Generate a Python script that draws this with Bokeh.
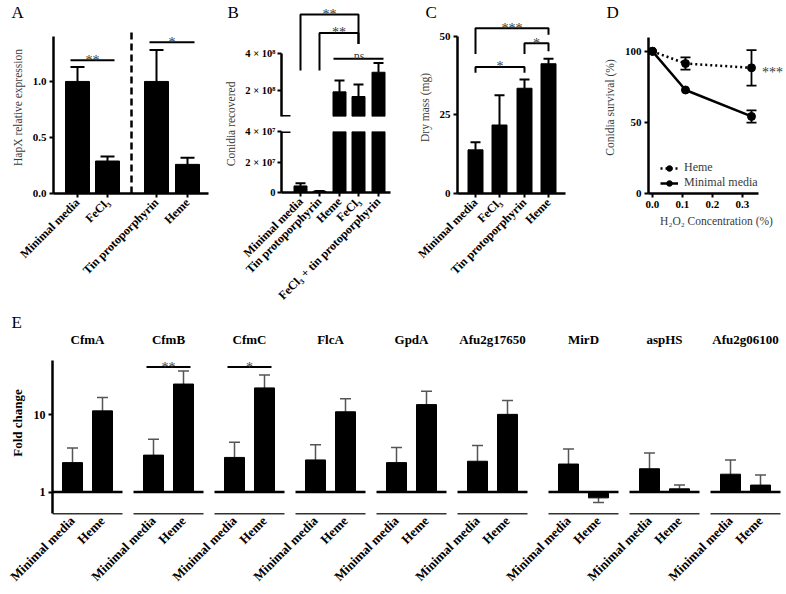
import math
import numpy as np
from bokeh.plotting import figure
from bokeh.layouts import row, column
from bokeh.models import (ColumnDataSource, Whisker, TeeHead, FixedTicker, Range1d,
                          Legend, LegendItem, NumeralTickFormatter, Title)
from bokeh.core.properties import value
from bokeh.embed import file_html
from bokeh.resources import INLINE

FONT = "Liberation Serif"
BG = "white"
INK = "black"
SOFT = "#3a3a3a"

# ---------------- data ----------------
# A: HapX relative expression
A_LABELS = ["Minimal media", "FeCl₃", "Tin protoporphyrin", "Heme"]
A_MEANS = [1.00, 0.29, 1.00, 0.26]
A_ERRS = [0.13, 0.04, 0.28, 0.06]
A_SIG = ["**", "*"]

# B: conidia recovered
B_LABELS = ["Minimal media", "Tin protoporphyrin", "Heme", "FeCl₃", "FeCl₃ + tin protoporphyrin"]
B_MEANS = [4.3e6, 8e5, 1.93e8, 1.68e8, 2.98e8]
B_ERRS = [1.7e6, 2e5, 0.61e8, 0.64e8, 0.50e8]
B_SIG = ["**", "**", "ns"]

# C: dry mass (mg)
C_LABELS = ["Minimal media", "FeCl₃", "Tin protoporphyrin", "Heme"]
C_MEANS = [13.9, 21.8, 33.5, 41.3]
C_ERRS = [2.4, 9.5, 2.8, 1.6]
C_SIG = ["***", "*", "*"]

# D: conidia survival (%)
D_CONC = [0.0, 0.11, 0.33]
D_HEME = [100, 91.4, 88.4]
D_HEME_ERR = [0, 4.3, 12.5]
D_MM = [100, 72.8, 54.2]
D_MM_ERR = [0, 0, 4.3]
D_SIG = "***"

# E: fold change
E_GENES = ["CfmA", "CfmB", "CfmC", "FlcA", "GpdA", "Afu2g17650", "MirD", "aspHS", "Afu2g06100"]
E_CONDS = ["Minimal media", "Heme"]
E_MM = [2.4, 3.0, 2.8, 2.6, 2.4, 2.5, 2.3, 2.0, 1.7]
E_MM_ERR = [1.3, 1.8, 1.6, 1.5, 1.35, 1.5, 1.3, 1.2, 0.9]
E_HEME = [11.2, 24.9, 22.2, 10.9, 13.5, 10.1, 0.84, 1.1, 1.23]
E_HEME_ERR = [5.5, 11.9, 10.5, 5.2, 6.6, 5.1, 0.11, 0.13, 0.43]
E_SIG = {1: "**", 2: "*"}


# ---------------- helpers ----------------
def style_axis(ax, tick_size="11px"):
    ax.axis_line_width = 2.5
    ax.axis_line_color = INK
    ax.major_tick_line_width = 2
    ax.major_tick_line_color = INK
    ax.major_tick_out = 4
    ax.major_tick_in = 0
    ax.minor_tick_line_color = None
    ax.major_label_text_font = FONT
    ax.major_label_text_font_style = "bold"
    ax.major_label_text_font_size = tick_size
    ax.major_label_text_color = INK
    ax.major_label_standoff = 3
    ax.axis_label_text_font = FONT
    ax.axis_label_text_font_style = "normal"
    ax.axis_label_text_font_size = "11.5px"
    ax.axis_label_text_color = SOFT
    ax.axis_label_standoff = 6


def make_fig(w, h, xr, yr, bl, br, bt, bb, x_axis=True, y_axis=True, y_type="linear"):
    p = figure(width=w, height=h, x_range=xr, y_range=yr, y_axis_type=y_type,
               x_axis_location="below" if x_axis else None,
               y_axis_location="left" if y_axis else None,
               output_backend="svg", toolbar_location=None, title=None,
               min_border_left=bl, min_border_right=br,
               min_border_top=bt, min_border_bottom=bb)
    p.background_fill_color = BG
    p.border_fill_color = BG
    p.outline_line_color = None
    p.grid.grid_line_color = None
    for ax in p.axis:
        style_axis(ax)
    return p


def panel_letter(p, s, offset):
    p.add_layout(Title(text=s, align="left", offset=offset, standoff=0,
                       text_font=FONT, text_font_size="17px", text_font_style="normal",
                       text_color=INK), "above")


def put_text(p, x, y, s, size, angle=0.0, align="center", style="normal", color=SOFT):
    p.text(x=[x], y=[y], text=[s], angle=angle, text_align=align, text_baseline="middle",
           text_font=value(FONT), text_font_size=value(size), text_font_style=style,
           text_color=color)


def add_whisker(p, x, lo, hi, cap, width=2, color=INK, both=False):
    src = ColumnDataSource(dict(base=[float(v) for v in x],
                                lower=[float(v) for v in lo],
                                upper=[float(v) for v in hi]))
    head = lambda: TeeHead(size=cap, line_width=width, line_color=color)
    p.add_layout(Whisker(source=src, base="base", lower="lower", upper="upper",
                         line_width=width, line_color=color,
                         upper_head=head(), lower_head=head() if both else None))


def sig_text(p, x, y, s, dy=0, size="14px"):
    p.text(x=[x], y=[y], text=[s], text_align="center", text_baseline="alphabetic",
           y_offset=dy, text_font=value(FONT), text_font_size=value(size), text_color=SOFT)


def bracket(p, x0, x1, y_top, y_left, y_right):
    p.line(x=[x0, x0, x1, x1], y=[y_left, y_top, y_top, y_right], line_width=2, line_color=INK)


def category_axis(ax, ticks, labels, size="12px"):
    ax.ticker = FixedTicker(ticks=[int(t) for t in ticks])
    ax.major_label_overrides = {int(t): l for t, l in zip(ticks, labels)}
    ax.major_label_orientation = math.pi / 4
    ax.major_label_text_font_size = size


TOP_BB = 117                 # common bottom border of the top row
TOP_H = 310
FRAME_H = 173                # frames span page y 20..193 (title strip above)
UP = math.pi / 2

# ---------------- panel A ----------------
A_X = [24, 54, 103, 134]
A_BAR_W = 24
A_DIVIDER_X = 78
A_DIVIDER_TOP = 1.464
A_SIG_Y = [1.19, 1.35]

pa = make_fig(210, TOP_H, Range1d(0, 155), Range1d(0, FRAME_H / 112.7), 53, 2, 0, TOP_BB)
panel_letter(pa, "A", -42)
pa.vbar(x=A_X, top=A_MEANS, width=A_BAR_W, color=INK)
add_whisker(pa, A_X, A_MEANS, np.add(A_MEANS, A_ERRS), cap=14)
pa.line([A_DIVIDER_X, A_DIVIDER_X], [0, A_DIVIDER_TOP], line_dash="7 4",
        line_width=2.5, line_color=INK)
for (i, j), lab, ys in zip([(0, 1), (2, 3)], A_SIG, A_SIG_Y):
    pa.line([A_X[i] - 7, A_X[j] + 7], [ys, ys], line_width=2, line_color=INK)
    sig_text(pa, (A_X[i] + A_X[j]) / 2, ys, lab)
ya = pa.yaxis[0]
ya.ticker = FixedTicker(ticks=[0, 0.5, 1.0])
ya.formatter = NumeralTickFormatter(format="0.0")
ya.bounds = (0, 1.4)
ya.axis_label = "HapX relative expression"
category_axis(pa.xaxis[0], A_X, A_LABELS)

# ---------------- panel B ----------------
B_X = [19, 38, 58, 77, 97]
B_BAR_W = 13
B_XMAX = 109
B_LOW_TOP = 4e7
B_UP_BOTTOM = 0.61e8
B_UP_TOP = 6.825e8
B_UP_AXIS_TOP = 4e8
bm = np.array(B_MEANS)
be = np.array(B_ERRS)
bx = np.array(B_X)
upper_mask = bm > B_LOW_TOP

# narrow strip carrying the letter and the shared title of the broken axis (px coords)
pbt = make_fig(30, TOP_H, Range1d(0, 30), Range1d(0, FRAME_H), 0, 0, 0, TOP_BB,
               x_axis=False, y_axis=False)
panel_letter(pbt, "B", 17)
put_text(pbt, 20, 70, "Conidia recovered", "11.5px", angle=UP)

# upper segment of the broken axis
pbu = make_fig(160, 123, Range1d(0, B_XMAX), Range1d(B_UP_BOTTOM, B_UP_TOP), 41, 10, 0, 7,
               x_axis=False)
pbu.vbar(x=bx[upper_mask], bottom=B_UP_BOTTOM, top=bm[upper_mask], width=B_BAR_W, color=INK)
add_whisker(pbu, bx[upper_mask], bm[upper_mask], (bm + be)[upper_mask], cap=10)
yu = pbu.yaxis[0]
yu.ticker = FixedTicker(ticks=[2e8, 4e8])
yu.major_label_overrides = {200000000: "2 × 10⁸", 400000000: "4 × 10⁸"}
yu.bounds = (B_UP_BOTTOM, B_UP_AXIS_TOP)
yu.major_label_text_font_size = "10.5px"
yu.major_label_standoff = 2
pbu.line([0, 9], [B_UP_BOTTOM, B_UP_BOTTOM], line_width=3, line_color=INK)
bracket(pbu, B_X[0], B_X[3], 6.07e8, 3.07e8, 4.5e8)
sig_text(pbu, (B_X[0] + B_X[3]) / 2, 6.07e8, B_SIG[0])
bracket(pbu, B_X[1], B_X[3], 5.09e8, 3.07e8, 4.5e8)
sig_text(pbu, (B_X[1] + B_X[3]) / 2, 5.09e8, B_SIG[1])
pbu.line([B_X[2] - 6, B_X[4] + 5], [3.71e8, 3.71e8], line_width=2, line_color=INK)
sig_text(pbu, (B_X[2] + B_X[4]) / 2, 3.71e8, B_SIG[2], dy=-3, size="12px")

# lower segment
pbd = make_fig(160, TOP_H - 123, Range1d(0, B_XMAX), Range1d(0, B_LOW_TOP), 41, 10, 8, TOP_BB)
pbd.vbar(x=B_X, top=np.minimum(bm, B_LOW_TOP), width=B_BAR_W, color=INK)
add_whisker(pbd, bx[~upper_mask], bm[~upper_mask], (bm + be)[~upper_mask], cap=10)
yl = pbd.yaxis[0]
yl.ticker = FixedTicker(ticks=[0, 2e7, 4e7])
yl.major_label_overrides = {0: "0", 20000000: "2 × 10⁷", 40000000: "4 × 10⁷"}
yl.major_label_text_font_size = "10.5px"
yl.major_label_standoff = 2
pbd.line([0, 9], [B_LOW_TOP, B_LOW_TOP], line_width=3, line_color=INK)
category_axis(pbd.xaxis[0], B_X, B_LABELS, size="12px")

# ---------------- panel C ----------------
C_X = [18, 42, 67, 91]
C_BAR_W = 15
pc = make_fig(185, TOP_H, Range1d(0, 108), Range1d(0, FRAME_H / 3.16), 57, 20, 0, TOP_BB)
panel_letter(pc, "C", -32)
pc.vbar(x=C_X, top=C_MEANS, width=C_BAR_W, color=INK)
add_whisker(pc, C_X, C_MEANS, np.add(C_MEANS, C_ERRS), cap=10)
bracket(pc, C_X[0], C_X[3], 52.6, 44.4, 50.5)
sig_text(pc, (C_X[0] + C_X[3]) / 2, 52.6, C_SIG[0])
bracket(pc, C_X[2], C_X[3], 47.8, 44.4, 45.3)
sig_text(pc, (C_X[2] + C_X[3]) / 2, 47.8, C_SIG[1])
bracket(pc, C_X[0], C_X[2], 40.3, 38.4, 38.4)
sig_text(pc, (C_X[0] + C_X[2]) / 2, 40.3, C_SIG[2])
yc = pc.yaxis[0]
yc.ticker = FixedTicker(ticks=[0, 25, 50])
yc.bounds = (0, 50)
yc.axis_label = "Dry mass (mg)"
category_axis(pc.xaxis[0], C_X, C_LABELS)

# ---------------- panel D ----------------
D_XMIN = -0.0133
pdd = make_fig(199, TOP_H, Range1d(D_XMIN, D_XMIN + 136 / 300), Range1d(0, FRAME_H / 1.43),
               63, 0, 0, TOP_BB)
panel_letter(pdd, "D", -42)
lh = pdd.line(D_CONC, D_HEME, line_width=2.5, line_dash="2 3", line_color=INK)
sh = pdd.scatter(D_CONC, D_HEME, size=8, color=INK)
lm = pdd.line(D_CONC, D_MM, line_width=2.5, line_color=INK)
sm = pdd.scatter(D_CONC, D_MM, size=8, color=INK)
dc = np.array(D_CONC)
for m, e in ((D_HEME, D_HEME_ERR), (D_MM, D_MM_ERR)):
    m = np.array(m, dtype=float)
    e = np.array(e, dtype=float)
    k = e > 0
    add_whisker(pdd, dc[k], (m - e)[k], (m + e)[k], cap=10, width=1.8, both=True)
pdd.text(x=[0.40], y=[85.3], text=[D_SIG], text_align="center", text_baseline="middle",
         text_font=value(FONT), text_font_size=value("14px"), text_color=SOFT)
yd = pdd.yaxis[0]
yd.ticker = FixedTicker(ticks=[0, 50, 100])
yd.bounds = (0, 110)
yd.axis_label = "Conidia survival (%)"
xd = pdd.xaxis[0]
xd.ticker = FixedTicker(ticks=[0, 0.1, 0.2, 0.3])
xd.formatter = NumeralTickFormatter(format="0.0")
xd.bounds = (D_XMIN, 0.353)
xd.axis_label = "H₂O₂ Concentration (%)"
xd.axis_label_standoff = 4
legend = Legend(items=[LegendItem(label="Heme", renderers=[lh, sh]),
                       LegendItem(label="Minimal media", renderers=[lm, sm])],
                location=(12, 3), orientation="vertical")
legend.background_fill_alpha = 0
legend.border_line_color = None
legend.label_text_font = FONT
legend.label_text_font_size = "12px"
legend.label_text_color = SOFT
legend.glyph_width = 18
legend.glyph_height = 14
legend.label_height = 14
legend.spacing = 0
legend.padding = 0
legend.margin = 0
legend.label_standoff = 6
pdd.add_layout(legend)

# ---------------- panel E ----------------
E_STEP = 81
E_EXTRA = 10
E_GROUP_W = 70
E_BAR_OFF = [20, 50]
E_BAR_W = 20
E_AXIS_Y = 0.52
E_TITLE_Y = 95
E_SIG_Y = 41.3
E_H = 282
E_BB = 76
starts = np.array([g * E_STEP + (E_EXTRA if g >= 6 else 0) for g in range(len(E_GENES))])
mm_x = starts + E_BAR_OFF[0]
he_x = starts + E_BAR_OFF[1]

pe = make_fig(784, E_H, Range1d(0, 732), Range1d(0.512, 119), 52, 0, 0, E_BB, y_type="log")
panel_letter(pe, "E", -41)
bar_x = np.concatenate([mm_x, he_x])
bar_v = np.concatenate([E_MM, E_HEME])
bar_e = np.concatenate([E_MM_ERR, E_HEME_ERR])
pe.vbar(x=bar_x, bottom=1, top=bar_v, width=E_BAR_W, color=INK)
add_whisker(pe, bar_x, bar_v, bar_v + np.sign(bar_v - 1) * bar_e, cap=11, width=1.5, color="#555555")
pe.segment(x0=starts, y0=np.ones(len(starts)), x1=starts + E_GROUP_W, y1=np.ones(len(starts)),
           line_width=2.5, line_color=INK)
pe.segment(x0=starts, y0=np.full(len(starts), E_AXIS_Y), x1=starts + E_GROUP_W,
           y1=np.full(len(starts), E_AXIS_Y), line_width=2, line_color="#333333")
pe.text(x=starts + E_GROUP_W / 2, y=np.full(len(starts), E_TITLE_Y), text=E_GENES,
        text_align="center", text_baseline="middle", text_font=value(FONT),
        text_font_size=value("13px"), text_font_style="bold", text_color=INK)
for g, lab in E_SIG.items():
    pe.line([mm_x[g] - 7, he_x[g] + 7], [E_SIG_Y, E_SIG_Y], line_width=2, line_color=INK)
    sig_text(pe, (mm_x[g] + he_x[g]) / 2, E_SIG_Y, lab, dy=0)
ye = pe.yaxis[0]
ye.ticker = FixedTicker(ticks=[1, 10])
ye.major_label_overrides = {1: "1", 10: "10"}
ye.major_label_text_font_size = "12px"
ye.bounds = (E_AXIS_Y, 50)
ye.axis_label = "Fold change"
ye.axis_label_text_font_style = "bold"
ye.axis_label_text_color = INK
ye.axis_label_text_font_size = "13px"
xe = pe.xaxis[0]
centers_e = np.ravel(np.column_stack([mm_x, he_x])).tolist()
labels_e = [E_CONDS[k % 2] for k in range(len(centers_e))]
category_axis(xe, centers_e, labels_e, size="13px")
xe.axis_line_color = None
xe.major_tick_line_color = None
xe.major_tick_out = 0
xe.major_label_standoff = 4

top = row(pa, pbt, column(pbu, pbd), pc, pdd)
layout = column(top, pe)

open("out.html", "w").write(file_html(layout, INLINE))
